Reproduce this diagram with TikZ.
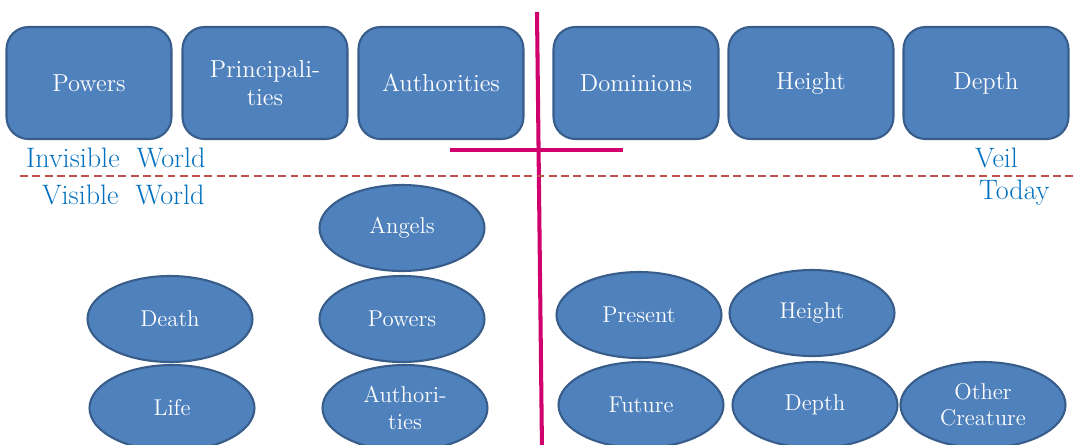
\documentclass[tikz,border=0pt]{standalone}
\usetikzlibrary{shapes.geometric}

\definecolor{boxblue}{RGB}{79,129,189}
\definecolor{boxedge}{RGB}{56,93,138}
\definecolor{crossred}{RGB}{208,0,108}
\definecolor{veilred}{RGB}{192,80,77}
\definecolor{worldblue}{RGB}{0,112,192}

\tikzset{
  realm/.style={rectangle, rounded corners=12.5pt, draw=boxedge, line width=1.2pt,
    fill=boxblue, text=white, minimum width=3.3cm, minimum height=2.24cm,
    align=center, font=\fontsize{14}{16}\selectfont},
  being/.style={ellipse, draw=boxedge, line width=1.2pt, fill=boxblue, text=white,
    minimum width=3.3cm, minimum height=1.72cm, inner sep=0pt, align=center,
    font=\fontsize{13}{15}\selectfont},
  worldlabel/.style={text=worldblue, font=\fontsize{16}{18}\selectfont},
  crossline/.style={draw=crossred, line width=2.3pt},
  veilline/.style={draw=veilred, line width=1pt, dash pattern=on 4.5pt off 2.5pt},
}

\begin{document}
\begin{tikzpicture}[x=0.02cm, y=-0.02cm]
        \useasboundingbox (0,0) rectangle (1076,444);

        % Invisible world
        \foreach \x/\name/\label in {89/powers/Powers, 265/princ/Principali-\\ties,
            441/auth/Authorities, 636/domin/Dominions, 811/height/Height, 986/depth/Depth} {
            \node[realm] (\name) at (\x,83) {\label};
        }

        % Visible world
        \foreach \x/\y/\name/\label in {402/228/angels/Angels, 402/319/vpowers/Powers,
            405/408/vauth/Authori-\\ties, 170/319/death/Death, 172/408/life/Life,
            639/315/present/Present, 812/313/vheight/Height, 641/405/future/Future,
            815/405/vdepth/Depth, 983/405/other/Other\\Creature} {
            \node[being] (\name) at (\x,\y) {\label};
        }

        % The cross
        \coordinate (crosstop) at (537,12);
        \coordinate (crossfoot) at (542,450);
        \coordinate (armleft) at (450,150);
        \coordinate (armright) at (623,150);
        \draw[crossline] (crosstop) -- (crossfoot);
        \draw[crossline] (armleft) -- (armright);

        % The veil
        \coordinate (veilleft) at (20,176);
        \coordinate (veilright) at (1076,176);
        \draw[veilline] (veilleft) -- (veilright);

        \node[worldlabel, anchor=west] (invisible) at (20,158) {Invisible\ \ World};
        \node[worldlabel, anchor=west] (visible) at (36,195) {Visible\ \ World};
        \node[worldlabel, anchor=west] (veil) at (969,158) {Veil};
        \node[worldlabel, anchor=west] (today) at (973,193) {Today};
\end{tikzpicture}
\end{document}
